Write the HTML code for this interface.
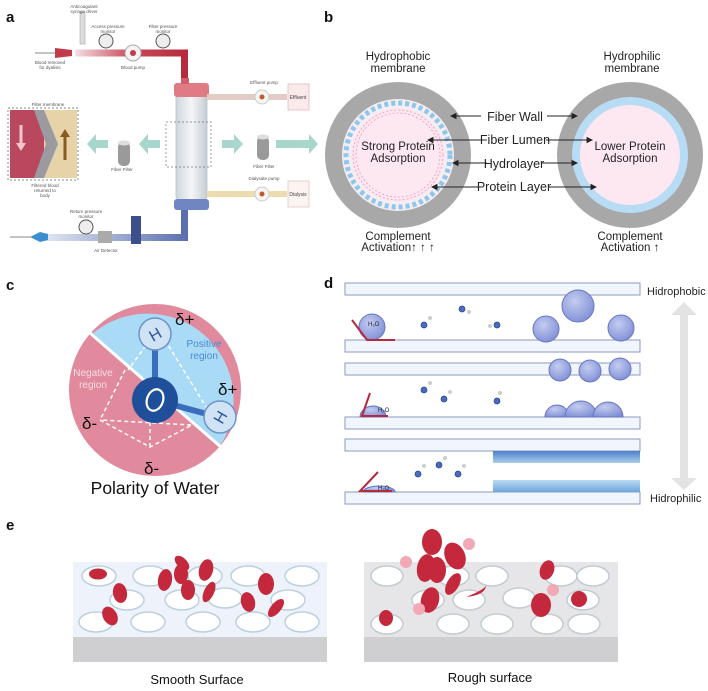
<!DOCTYPE html>
<html><head><meta charset="utf-8"><style>
html,body{margin:0;padding:0;background:#fff}
svg{display:block;font-family:"Liberation Sans",sans-serif}
</style></head><body>
<svg width="708" height="691" viewBox="0 0 708 691" xmlns="http://www.w3.org/2000/svg">
<defs>
<linearGradient id="col" x1="0" x2="1"><stop offset="0" stop-color="#cfd6dc"/><stop offset="0.5" stop-color="#f4f6f8"/><stop offset="1" stop-color="#c5ccd3"/></linearGradient>
<linearGradient id="redt" x1="0" x2="1"><stop offset="0" stop-color="#f3e0e3"/><stop offset="0.5" stop-color="#c84a5a"/><stop offset="1" stop-color="#b52a3c"/></linearGradient>
<linearGradient id="bluet" x1="1" x2="0"><stop offset="0" stop-color="#5a6fb0"/><stop offset="1" stop-color="#e6ebf5"/></linearGradient>
<radialGradient id="ball" cx="0.4" cy="0.35" r="0.7"><stop offset="0" stop-color="#c4ccf0"/><stop offset="1" stop-color="#7f8fd6"/></radialGradient>
<linearGradient id="bw" x1="0" y1="0" x2="0" y2="1"><stop offset="0" stop-color="#4f7fc8"/><stop offset="1" stop-color="#a9cfee"/></linearGradient>
<linearGradient id="bw2" x1="0" y1="1" x2="0" y2="0"><stop offset="0" stop-color="#6fa6dc"/><stop offset="1" stop-color="#b8dbf3"/></linearGradient>
</defs>
<g font-weight="bold" font-size="15" fill="#111">
<text x="6" y="22">a</text><text x="324" y="22">b</text><text x="6" y="290">c</text><text x="324" y="288">d</text><text x="6" y="530">e</text>
</g>

<!-- Panel a -->
<g>
<line x1="35" y1="53" x2="62" y2="53" stroke="#888" stroke-width="1"/>
<path d="M55 48 L72 50 L72 56 L55 58 Z" fill="#c33a4a"/>
<rect x="75" y="49.5" width="112" height="7" fill="url(#redt)"/>
<rect x="181" y="49.5" width="7" height="35" fill="#b52a3c"/>
<rect x="80" y="12" width="5" height="32" fill="#ddd" stroke="#999" stroke-width="0.5"/>
<circle cx="106" cy="41" r="7" fill="#eee" stroke="#555"/>
<circle cx="163" cy="41" r="7" fill="#eee" stroke="#555"/>
<circle cx="133" cy="53" r="8" fill="#f4f4f4" stroke="#aaa"/><circle cx="133" cy="53" r="3" fill="#c33a4a"/>
<g font-size="4.5" fill="#555" text-anchor="middle">
<text x="84" y="8">Anticoagulant</text><text x="84" y="13">syringe driver</text>
<text x="108" y="28">Access pressure</text><text x="108" y="33">monitor</text>
<text x="163" y="28">Filter pressure</text><text x="163" y="33">monitor</text>
<text x="50" y="64">Blood removed</text><text x="50" y="69">for dyalisis</text>
<text x="133" y="69">Blood pump</text>
<text x="264" y="84">Effluent pump</text><text x="264" y="180">Dialysate pump</text>
<text x="264" y="168">Fiber Filter</text><text x="122" y="171">Fiber Filter</text>
<text x="45" y="187">Filtered blood</text><text x="45" y="192">returned to</text><text x="45" y="197">body</text>
<text x="86" y="213">Return pressure</text><text x="86" y="218">monitor</text>
<text x="106" y="252">Air Detector</text>
<text x="48" y="106">Filter membrane</text>
</g>
<!-- column -->
<rect x="176" y="90" width="31" height="110" rx="4" fill="url(#col)" stroke="#b8c0c8" stroke-width="0.8"/>
<rect x="174" y="83" width="35" height="14" rx="3" fill="#e07b86"/>
<rect x="181" y="78" width="8" height="6" fill="#d0606c"/>
<rect x="174" y="199" width="35" height="11" rx="3" fill="#6f86c2"/>
<rect x="166" y="122" width="45" height="45" fill="none" stroke="#777" stroke-dasharray="2,2" stroke-width="0.7"/>
<!-- effluent -->
<rect x="207" y="94" width="80" height="6" fill="#e3ccc4"/>
<circle cx="262" cy="97" r="7" fill="#f4f4f4" stroke="#ccc"/><circle cx="262" cy="97" r="2.5" fill="#c05a2a"/>
<rect x="288" y="84" width="21" height="26" fill="#fbeaea" stroke="#e8b8bb" stroke-width="0.8"/>
<text x="298" y="99" font-size="5" text-anchor="middle" fill="#444">Effluent</text>
<rect x="207" y="191" width="80" height="6" fill="#ecdcb0"/>
<circle cx="262" cy="194" r="7" fill="#f4f4f4" stroke="#ccc"/><circle cx="262" cy="194" r="2.5" fill="#c05a2a"/>
<rect x="288" y="181" width="21" height="26" fill="#fbf4f0" stroke="#e0c8c0" stroke-width="0.8"/>
<text x="298" y="196" font-size="5" text-anchor="middle" fill="#444">Dialysis</text>
<!-- arrows teal -->
<g fill="#a6d6cc">
<path d="M222 140 h12 v-6 l9 10 l-9 10 v-6 h-12 z"/>
<path d="M276 140 h33 v-6 l9 10 l-9 10 v-6 h-33 z"/>
<path d="M160 140 h-12 v-6 l-9 10 l9 10 v-6 h12 z"/>
<path d="M108 140 h-12 v-6 l-9 10 l9 10 v-6 h12 z"/>
</g>
<rect x="118" y="142" width="12" height="24" rx="5" fill="#9a9a9a"/><ellipse cx="124" cy="143" rx="6" ry="2.5" fill="#ddd"/>
<rect x="257" y="136" width="12" height="24" rx="5" fill="#9a9a9a"/><ellipse cx="263" cy="137" rx="6" ry="2.5" fill="#ddd"/>
<!-- membrane box -->
<rect x="8" y="108" width="70" height="72" fill="none" stroke="#888" stroke-dasharray="2,2"/>
<rect x="10" y="110" width="36" height="68" fill="#b9485f"/>
<rect x="44" y="110" width="33" height="68" fill="#e6d3a8"/>
<path d="M44 110 L58 144 L44 178 L34 178 L46 144 L34 110Z" fill="#9a9aa0"/>
<path d="M21 125 v20" stroke="#f3c6ce" stroke-width="3"/><path d="M16 143 l5 8 l5 -8z" fill="#f3c6ce"/>
<path d="M65 160 v-25" stroke="#8a5a1e" stroke-width="3"/><path d="M60 137 l5 -8 l5 8z" fill="#8a5a1e"/>
<!-- blue return -->
<rect x="181" y="210" width="7" height="31" fill="#5a6fb0"/>
<rect x="40" y="234" width="148" height="7" fill="url(#bluet)"/>
<path d="M30 237 L40 232 L48 234 L48 240 L40 242Z" fill="#3a8fd0"/>
<line x1="10" y1="237" x2="32" y2="237" stroke="#888"/>
<rect x="131" y="216" width="10" height="28" fill="#3b4f8a"/>
<circle cx="86" cy="227" r="7" fill="#eee" stroke="#555"/>
<rect x="98" y="231" width="14" height="12" fill="#aaa"/>
</g>

<!-- Panel b -->
<g>
<circle cx="398" cy="155" r="73" fill="#a8a8a8"/>
<circle cx="398" cy="155" r="56" fill="#f4eef2"/>
<circle cx="398" cy="155" r="52" fill="none" stroke="#8fc6ee" stroke-width="5" stroke-dasharray="4,3"/>
<circle cx="398" cy="155" r="47" fill="#fde8f1"/>
<circle cx="398" cy="155" r="45" fill="none" stroke="#e79ab6" stroke-width="0.8" stroke-dasharray="2,2"/>
<circle cx="398" cy="155" r="42" fill="none" stroke="#e79ab6" stroke-width="0.8" stroke-dasharray="2,2"/>
<circle cx="630" cy="155" r="73" fill="#a8a8a8"/>
<circle cx="630" cy="155" r="58" fill="#b7dcf3"/>
<circle cx="630" cy="155" r="50" fill="#fde8f1"/>
<g font-size="11.5" fill="#222" text-anchor="middle">
<text x="398" y="60">Hydrophobic</text><text x="398" y="72">membrane</text>
<text x="632" y="60">Hydrophilic</text><text x="632" y="72">membrane</text>
<text x="398" y="150">Strong Protein</text><text x="398" y="162">Adsorption</text>
<text x="630" y="150">Lower Protein</text><text x="630" y="162">Adsorption</text>
<text x="398" y="240">Complement</text><text x="398" y="251">Activation↑ ↑ ↑</text>
<text x="630" y="240">Complement</text><text x="630" y="251">Activation ↑</text>
</g>
<g font-size="12.5" fill="#222" text-anchor="middle">
<text x="515" y="121">Fiber Wall</text><text x="515" y="144">Fiber Lumen</text>
<text x="514" y="168">Hydrolayer</text><text x="514" y="191">Protein Layer</text>
</g>
<g stroke="#222" stroke-width="0.9" fill="#222">
<line x1="452" y1="116" x2="481" y2="116"/><path d="M451 116 l5 -2.5 v5z"/>
<line x1="547" y1="116" x2="575" y2="116"/><path d="M577 116 l-5 -2.5 v5z"/>
<line x1="430" y1="140" x2="484" y2="140"/><path d="M428 140 l5 -2.5 v5z"/>
<line x1="546" y1="140" x2="590" y2="140"/><path d="M592 140 l-5 -2.5 v5z"/>
<line x1="455" y1="163" x2="487" y2="163"/><path d="M453 163 l5 -2.5 v5z"/>
<line x1="542" y1="163" x2="575" y2="163"/><path d="M577 163 l-5 -2.5 v5z"/>
<line x1="434" y1="187" x2="480" y2="187"/><path d="M432 187 l5 -2.5 v5z"/>
<line x1="548" y1="187" x2="594" y2="187"/><path d="M596 187 l-5 -2.5 v5z"/>
</g>
</g>

<!-- Panel c -->
<g>
<circle cx="155" cy="390" r="86" fill="#e18a9e"/>
<path d="M92 334 L220 446 A86 86 0 0 0 92 334Z" fill="#a9daf6"/>
<path d="M92 334 A86 86 0 0 1 233 354" fill="none"/>
<line x1="90" y1="333" x2="222" y2="448" stroke="#fff" stroke-width="3"/>
<g stroke="#fff" stroke-width="1.5" stroke-dasharray="4,3" fill="none">
<path d="M125 370 L100 420 L150 447 L192 425 L100 420"/><path d="M150 447 L150 410"/>
<path d="M150 340 L128 370"/><path d="M165 340 L208 410"/>
</g>
<line x1="155" y1="400" x2="155" y2="340" stroke="#3b6dbd" stroke-width="6"/>
<line x1="155" y1="400" x2="218" y2="417" stroke="#3b6dbd" stroke-width="6"/>
<circle cx="155" cy="400" r="23" fill="#1f4f9a"/>
<ellipse cx="155" cy="400" rx="8" ry="11" fill="none" stroke="#fff" stroke-width="2.2" transform="rotate(20 155 400)"/>
<circle cx="155" cy="334" r="16" fill="#cfe3f4" stroke="#6d94c8" stroke-width="1.5"/>
<circle cx="220" cy="417" r="16" fill="#cfe3f4" stroke="#6d94c8" stroke-width="1.5"/>
<text x="155" y="340" font-size="16" fill="#2b56a0" text-anchor="middle" transform="rotate(-30 155 334)">H</text>
<text x="220" y="423" font-size="16" fill="#2b56a0" text-anchor="middle" transform="rotate(-60 220 417)">H</text>
<g font-size="17" fill="#111">
<text x="175" y="325">δ+</text><text x="218" y="395">δ+</text><text x="82" y="429">δ-</text><text x="144" y="474">δ-</text>
</g>
<g font-size="10" text-anchor="middle">
<text x="204" y="347" fill="#4a8ccc">Positive</text><text x="204" y="359" fill="#4a8ccc">region</text>
<text x="93" y="376" fill="#f7dbe2">Negative</text><text x="93" y="388" fill="#f7dbe2">region</text>
</g>
<text x="155" y="494" font-size="17.5" fill="#111" text-anchor="middle">Polarity of Water</text>
</g>

<!-- Panel d -->
<g>
<g fill="#f1f5fc" stroke="#8d9ac0" stroke-width="1">
<rect x="345" y="283" width="295" height="12"/>
<rect x="345" y="340" width="295" height="12"/>
<rect x="345" y="363" width="295" height="12"/>
<rect x="345" y="417" width="295" height="12"/>
<rect x="345" y="439" width="295" height="12"/>
<rect x="345" y="492" width="295" height="12"/>
</g>
<rect x="493" y="451" width="147" height="12" fill="url(#bw)"/>
<rect x="493" y="480" width="147" height="12" fill="url(#bw2)"/>
<g fill="url(#ball)" stroke="#6677c0" stroke-width="1">
<circle cx="546" cy="329" r="13"/><circle cx="578" cy="306" r="16"/><circle cx="621" cy="328" r="13"/>
<circle cx="372" cy="327" r="13"/>
<circle cx="560" cy="370" r="11"/><circle cx="590" cy="371" r="11"/><circle cx="620" cy="369" r="11"/>
<path d="M545 417 a12 12 0 0 1 24 0z"/><path d="M565 417 a16 16 0 0 1 32 0z"/><path d="M593 417 a14 14 0 0 1 30 0z"/>
<path d="M360 417 a13 11 0 0 1 26 0z"/><path d="M363 492 a16 6 0 0 1 32 0z"/>
</g>
<g font-size="6" fill="#223"><text x="368" y="326">H₂O</text><text x="378" y="412">H₂O</text><text x="378" y="490">H₂O</text></g>
<g stroke="#b52a3c" stroke-width="2" fill="none">
<path d="M352 320 L367 340 L395 340"/><path d="M370 393 L362 416 L388 416"/><path d="M378 472 L360 491 L392 491"/>
</g>
<g fill="#4a6bc0" stroke="#25418a" stroke-width="0.7">
<circle cx="424" cy="325" r="3"/><circle cx="462" cy="309" r="3"/><circle cx="497" cy="325" r="3"/>
<circle cx="424" cy="390" r="3"/><circle cx="444" cy="399" r="3"/><circle cx="497" cy="401" r="3"/>
<circle cx="418" cy="474" r="3"/><circle cx="439" cy="465" r="3"/><circle cx="458" cy="474" r="3"/>
</g>
<g fill="#ccc"><circle cx="430" cy="318" r="2"/><circle cx="469" cy="312" r="2"/><circle cx="490" cy="326" r="2"/><circle cx="430" cy="383" r="2"/><circle cx="450" cy="392" r="2"/><circle cx="500" cy="393" r="2"/><circle cx="424" cy="466" r="2"/><circle cx="445" cy="458" r="2"/><circle cx="464" cy="466" r="2"/></g>
<path d="M671 315 L684 302 L697 315 L688 315 L688 478 L697 478 L684 490 L671 478 L680 478 L680 315Z" fill="#e3e3e3"/>
<text x="647" y="295" font-size="11" fill="#222">Hidrophobic</text>
<text x="650" y="502" font-size="11" fill="#222">Hidrophilic</text>
</g>

<!-- Panel e -->
<g>
<rect x="73" y="562" width="254" height="75" fill="#eef2fa"/>
<rect x="73" y="637" width="254" height="25" fill="#cfcfd2"/>
<rect x="364" y="562" width="254" height="75" fill="#e6e6e8"/>
<rect x="364" y="637" width="254" height="25" fill="#cfcfd2"/>
<g fill="#fff" stroke="#bcd0dc" stroke-width="1.5">
<ellipse cx="99" cy="576" rx="17" ry="10"/><ellipse cx="150" cy="576" rx="17" ry="10"/><ellipse cx="248" cy="576" rx="17" ry="10"/><ellipse cx="302" cy="576" rx="17" ry="10"/><ellipse cx="205" cy="576" rx="17" ry="10"/>
<ellipse cx="127" cy="600" rx="17" ry="10"/><ellipse cx="182" cy="600" rx="17" ry="10"/><ellipse cx="225" cy="598" rx="17" ry="10"/><ellipse cx="288" cy="600" rx="17" ry="10"/>
<ellipse cx="96" cy="622" rx="17" ry="10"/><ellipse cx="148" cy="622" rx="17" ry="10"/><ellipse cx="203" cy="622" rx="17" ry="10"/><ellipse cx="253" cy="622" rx="17" ry="10"/><ellipse cx="302" cy="622" rx="17" ry="10"/>
</g>
<g fill="#fff" stroke="#c2ccd2" stroke-width="1.5">
<ellipse cx="387" cy="576" rx="16" ry="10"/><ellipse cx="453" cy="576" rx="16" ry="10"/><ellipse cx="492" cy="576" rx="16" ry="10"/><ellipse cx="561" cy="576" rx="16" ry="10"/><ellipse cx="593" cy="576" rx="16" ry="10"/>
<ellipse cx="428" cy="600" rx="16" ry="10"/><ellipse cx="469" cy="600" rx="16" ry="10"/><ellipse cx="519" cy="598" rx="16" ry="10"/><ellipse cx="583" cy="600" rx="16" ry="10"/>
<ellipse cx="387" cy="624" rx="16" ry="10"/><ellipse cx="453" cy="624" rx="16" ry="10"/><ellipse cx="497" cy="624" rx="16" ry="10"/><ellipse cx="547" cy="624" rx="16" ry="10"/><ellipse cx="584" cy="624" rx="16" ry="10"/>
</g>
<g fill="#c3283c">
<ellipse cx="98" cy="574" rx="9" ry="5.5"/><ellipse cx="120" cy="593" rx="7" ry="10" transform="rotate(-10 120 593)"/><ellipse cx="110" cy="616" rx="7" ry="10" transform="rotate(-30 110 616)"/>
<ellipse cx="182" cy="563" rx="5" ry="9" transform="rotate(-45 182 563)"/><ellipse cx="165" cy="580" rx="7" ry="11" transform="rotate(10 165 580)"/><ellipse cx="181" cy="574" rx="7" ry="10"/><ellipse cx="188" cy="590" rx="7" ry="10"/><ellipse cx="206" cy="570" rx="7" ry="11" transform="rotate(15 206 570)"/><ellipse cx="209" cy="592" rx="5" ry="11" transform="rotate(25 209 592)"/>
<ellipse cx="248" cy="602" rx="7" ry="10" transform="rotate(-15 248 602)"/><ellipse cx="266" cy="584" rx="8" ry="11"/><ellipse cx="276" cy="608" rx="5" ry="11" transform="rotate(40 276 608)"/>
<ellipse cx="432" cy="542" rx="10" ry="13"/><ellipse cx="455" cy="556" rx="10" ry="14" transform="rotate(-25 455 556)"/><ellipse cx="426" cy="568" rx="9" ry="14" transform="rotate(10 426 568)"/><ellipse cx="437" cy="570" rx="9" ry="13"/><ellipse cx="453" cy="584" rx="6" ry="12" transform="rotate(30 453 584)"/>
<ellipse cx="430" cy="600" rx="9" ry="13" transform="rotate(15 430 600)"/><ellipse cx="386" cy="618" rx="7" ry="8"/><ellipse cx="579" cy="599" rx="8" ry="8"/><ellipse cx="547" cy="570" rx="7" ry="10" transform="rotate(20 547 570)"/><ellipse cx="541" cy="605" rx="10" ry="12"/>
<path d="M466 597 q20 -8 20 -12 q0 10 -20 12z"/>
</g>
<g fill="#f2a9b6"><circle cx="406" cy="562" r="6"/><circle cx="469" cy="544" r="6"/><circle cx="419" cy="609" r="6"/><circle cx="553" cy="590" r="6"/></g>
<g font-size="13" fill="#111" text-anchor="middle">
<text x="197" y="684">Smooth  Surface</text><text x="490" y="682">Rough surface</text>
</g>
</g>
</svg>
</body></html>
